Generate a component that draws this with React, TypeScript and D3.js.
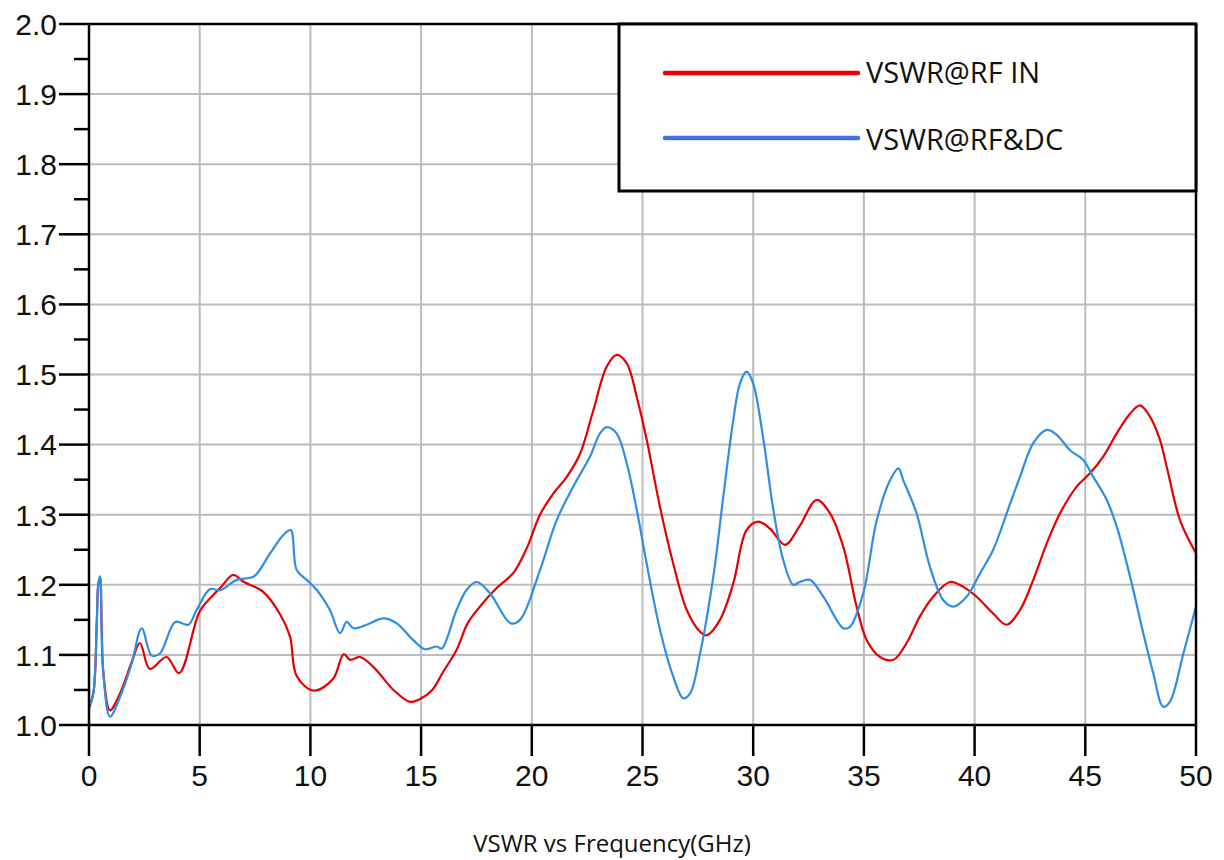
import React from "react";
import * as d3 from "d3";

const xTicks = [0, 5, 10, 15, 20, 25, 30, 35, 40, 45, 50];
const yTicks = [1.0, 1.1, 1.2, 1.3, 1.4, 1.5, 1.6, 1.7, 1.8, 1.9, 2.0];
const yMinorTicks = [1.05, 1.15, 1.25, 1.35, 1.45, 1.55, 1.65, 1.75, 1.85, 1.95];

const seriesNames = ["VSWR@RF IN", "VSWR@RF&DC"];
const xTitle = "VSWR vs Frequency(GHz)";

const redFreq = [0, 0.2, 0.35, 0.42, 0.5, 0.57, 0.65, 0.95, 1.4, 1.93, 2.3, 2.75, 3.5, 4.07, 5.0, 5.6, 6.0, 6.5, 7.0, 7.87, 8.63, 9.08, 9.38, 10.15, 11.03, 11.5, 11.8, 12.24, 12.84, 13.75, 14.5, 14.95, 15.5, 16.0, 16.6, 17.1, 17.66, 18.4, 19.17, 19.77, 20.37, 20.97, 21.58, 22.18, 22.78, 23.38, 23.83, 24.29, 24.74, 25.19, 25.79, 26.39, 27.0, 27.6, 27.9, 28.5, 29.1, 29.7, 30.23, 30.76, 31.44, 32.1, 32.86, 33.47, 34.07, 34.67, 35.13, 35.73, 36.33, 36.93, 37.53, 38.13, 38.89, 39.49, 40.09, 40.84, 41.45, 42.05, 42.65, 43.26, 43.86, 44.61, 45.21, 45.81, 46.42, 47.02, 47.47, 47.92, 48.37, 48.68, 49.28, 50.0];
const redVswr = [1.024, 1.046, 1.145, 1.2, 1.21, 1.14, 1.074, 1.021, 1.045, 1.09, 1.117, 1.08, 1.097, 1.074, 1.162, 1.185, 1.198, 1.214, 1.204, 1.19, 1.158, 1.126, 1.07, 1.049, 1.066, 1.101, 1.093, 1.097, 1.083, 1.05, 1.033, 1.037, 1.05, 1.076, 1.107, 1.145, 1.169, 1.195, 1.217, 1.252, 1.3, 1.33, 1.354, 1.387, 1.449, 1.511, 1.528, 1.516, 1.468, 1.407, 1.311, 1.23, 1.164, 1.133, 1.128, 1.15, 1.202, 1.278, 1.29, 1.28, 1.257, 1.284, 1.321, 1.302, 1.254, 1.169, 1.121, 1.097, 1.093, 1.117, 1.155, 1.183, 1.204, 1.197, 1.183, 1.159, 1.143, 1.164, 1.207, 1.259, 1.302, 1.34, 1.359, 1.383, 1.416, 1.444, 1.456, 1.44, 1.407, 1.368, 1.292, 1.245];

const blueFreq = [0, 0.2, 0.35, 0.42, 0.5, 0.57, 0.65, 0.95, 1.4, 1.93, 2.38, 2.83, 3.2, 3.9, 4.49, 4.86, 5.47, 5.92, 6.67, 7.45, 8.18, 8.78, 9.11, 9.38, 9.83, 10.28, 10.88, 11.34, 11.64, 11.94, 12.54, 13.29, 13.9, 14.65, 15.18, 15.7, 15.93, 16.6, 17.06, 17.51, 18.11, 19.05, 19.47, 20.37, 21.12, 21.87, 22.63, 23.08, 23.38, 23.83, 24.29, 24.74, 25.19, 25.79, 26.39, 26.84, 27.15, 27.6, 28.2, 28.65, 29.1, 29.4, 29.7, 30.0, 30.46, 30.91, 31.36, 31.81, 32.1, 32.56, 33.17, 34.07, 34.37, 34.97, 35.58, 36.18, 36.56, 36.78, 37.38, 37.98, 38.59, 39.04, 39.64, 40.24, 40.84, 41.45, 42.05, 42.65, 43.26, 43.71, 44.31, 44.91, 45.36, 45.97, 46.42, 47.02, 47.62, 48.07, 48.52, 48.82, 49.43, 50.0];
const blueVswr = [1.024, 1.046, 1.145, 1.202, 1.212, 1.14, 1.074, 1.012, 1.04, 1.088, 1.138, 1.099, 1.102, 1.147, 1.143, 1.164, 1.194, 1.192, 1.207, 1.212, 1.245, 1.271, 1.278, 1.221, 1.207, 1.193, 1.164, 1.131, 1.147, 1.138, 1.143, 1.152, 1.145, 1.121, 1.108, 1.112, 1.109, 1.164, 1.193, 1.204, 1.188, 1.145, 1.15, 1.221, 1.292, 1.34, 1.383, 1.416, 1.425, 1.416, 1.373, 1.307, 1.23, 1.136, 1.069, 1.038, 1.045, 1.102, 1.212, 1.326, 1.435, 1.487, 1.504, 1.487, 1.407, 1.307, 1.235, 1.2, 1.204, 1.207, 1.183, 1.138, 1.14, 1.188, 1.292, 1.349, 1.366, 1.349, 1.302, 1.226, 1.178, 1.169, 1.183, 1.216, 1.25, 1.302, 1.354, 1.402, 1.421, 1.414, 1.392, 1.378, 1.354, 1.321, 1.283, 1.212, 1.131, 1.074, 1.026, 1.033, 1.102, 1.169];

const W = 1224;
const H = 860;
const L = 89, R = 1196, T = 24, B = 725;

export default function App() {
  const x = d3.scaleLinear().domain([0, 50]).range([L, R]);
  const y = d3.scaleLinear().domain([1.0, 2.0]).range([B, T]);
  const line = d3
    .line<[number, number]>()
    .x((d) => x(d[0]))
    .y((d) => y(d[1]))
    .curve(d3.curveCatmullRom.alpha(0.5));
  const red = redFreq.map((f, i) => [f, redVswr[i]] as [number, number]);
  const blue = blueFreq.map((f, i) => [f, blueVswr[i]] as [number, number]);
  const grid = "#bcbcbc";
  const tickFont = "'Liberation Sans', Arial, sans-serif";
  const txtFont = "'Open Sans', 'Noto Sans', sans-serif";
  return (
    <div style={{ position: "fixed", left: 0, top: 0 }}>
      <svg width={W} height={H} style={{ display: "block", background: "#fff" }}>
        {xTicks.slice(1, -1).map((t) => (
          <line key={"gx" + t} x1={x(t)} x2={x(t)} y1={T} y2={B} stroke={grid} strokeWidth={2} />
        ))}
        {yTicks.slice(1, -1).map((t) => (
          <line key={"gy" + t} x1={L} x2={R} y1={y(t)} y2={y(t)} stroke={grid} strokeWidth={2} />
        ))}
        <path d={line(red) || ""} fill="none" stroke="#e60000" strokeWidth={2.2} strokeLinejoin="round" />
        <path d={line(blue) || ""} fill="none" stroke="#2e8ee6" strokeWidth={2.2} strokeLinejoin="round" />
        <line x1={L} x2={L} y1={T} y2={B} stroke="#000" strokeWidth={2.5} />
        <line x1={R} x2={R} y1={T} y2={B} stroke="#000" strokeWidth={2.5} />
        <line x1={L} x2={R} y1={T} y2={T} stroke="#000" strokeWidth={2.5} />
        <line x1={L} x2={R} y1={B} y2={B} stroke="#000" strokeWidth={2.5} />
        {yTicks.map((t) => (
          <g key={"yt" + t}>
            <line x1={L - 30} x2={L} y1={y(t)} y2={y(t)} stroke="#000" strokeWidth={2.5} />
            <text x={L - 32} y={y(t)} dy="0.36em" textAnchor="end" fontFamily={tickFont} fontSize={30} fill="#111">
              {t.toFixed(1)}
            </text>
          </g>
        ))}
        {yMinorTicks.map((t) => (
          <line key={"ym" + t} x1={L - 15} x2={L} y1={y(t)} y2={y(t)} stroke="#000" strokeWidth={2.5} />
        ))}
        {xTicks.map((t) => (
          <g key={"xt" + t}>
            <line x1={x(t)} x2={x(t)} y1={B} y2={B + 31} stroke="#000" strokeWidth={2.5} />
            <text x={x(t)} y={B + 61} textAnchor="middle" fontFamily={tickFont} fontSize={30} fill="#111">
              {t}
            </text>
          </g>
        ))}
        <rect x={619} y={T} width={R - 619} height={191 - T} fill="#fff" stroke="#000" strokeWidth={3} />
        <line x1={665} x2={858} y1={73} y2={73} stroke="#ee0000" strokeWidth={4.5} strokeLinecap="round" />
        <line x1={665} x2={858} y1={138} y2={138} stroke="#4472dc" strokeWidth={4.5} strokeLinecap="round" />
        <text x={866} y={73} dy="0.36em" fontFamily={txtFont} fontSize={29} fill="#111">
          {seriesNames[0]}
        </text>
        <text x={866} y={140} dy="0.36em" fontFamily={txtFont} fontSize={29} fill="#111">
          {seriesNames[1]}
        </text>
        <text x={612} y={852} textAnchor="middle" fontFamily={txtFont} fontSize={24} fill="#111">
          {xTitle}
        </text>
      </svg>
    </div>
  );
}
